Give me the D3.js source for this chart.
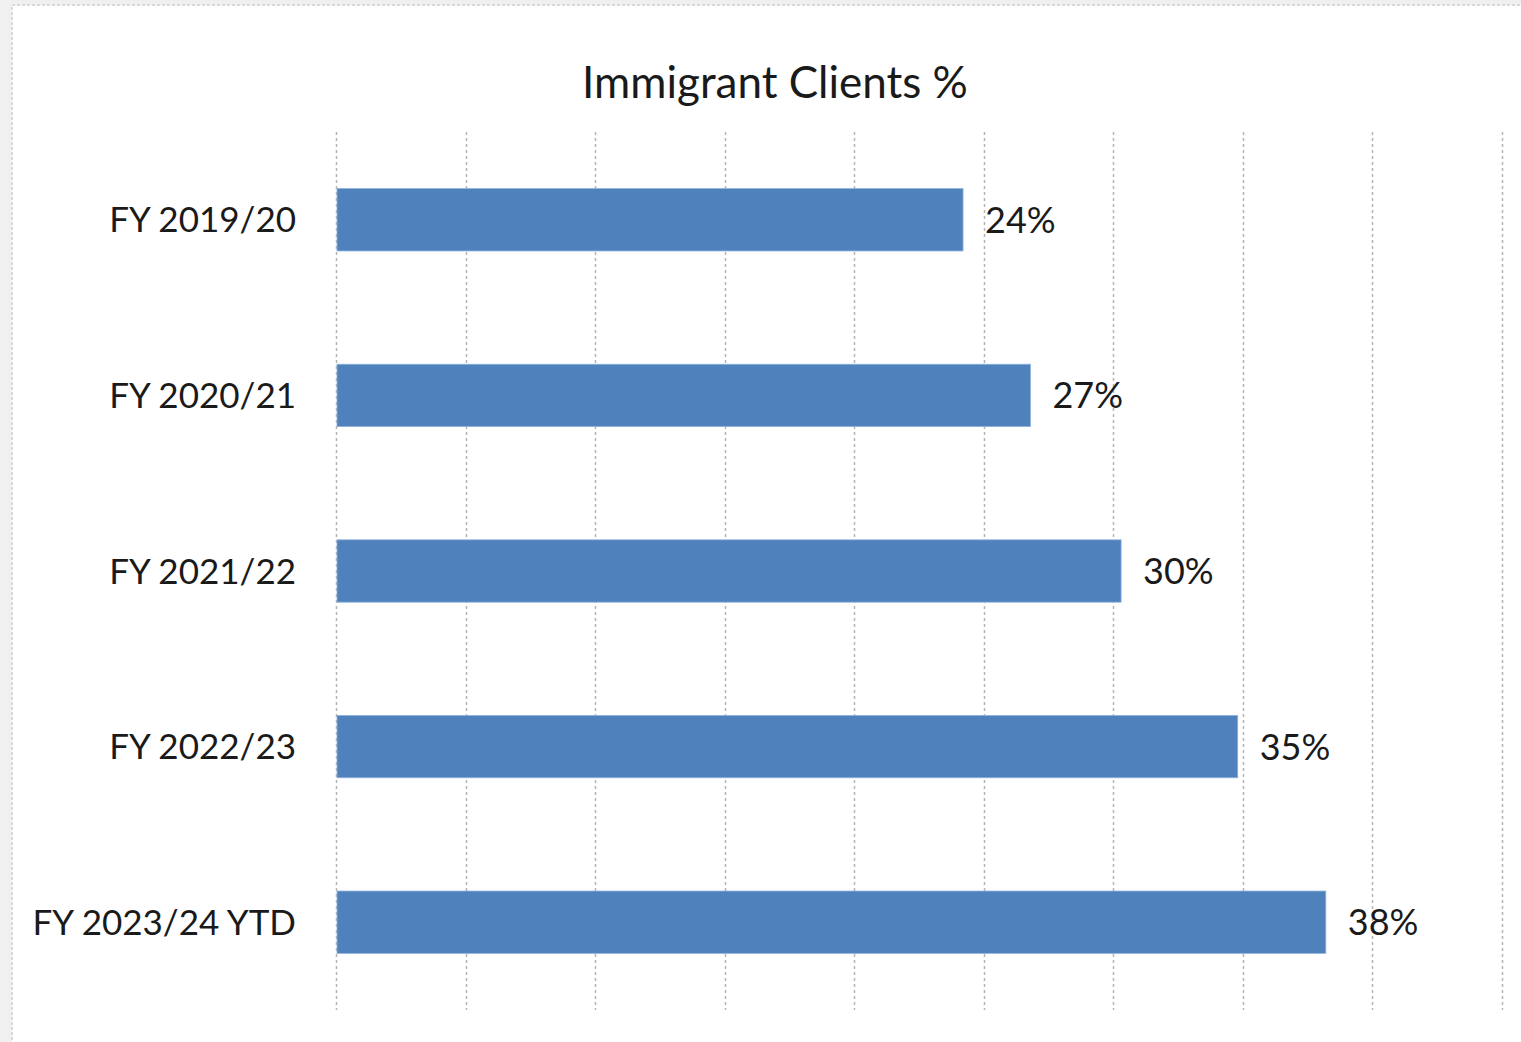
<!DOCTYPE html>
<html>
<head>
<meta charset="utf-8">
<script src="https://cdn.jsdelivr.net/npm/d3@7"></script>
<style>
  html, body { margin: 0; padding: 0; background: #f0f0f0; overflow: hidden; }
  text { font-family: Lato, "Open Sans", sans-serif; fill: #1a1a1a; }
</style>
</head>
<body>
<div id="chart"></div>
<script>
// data
const title = "Immigrant Clients %";
const categories = ["FY 2019/20", "FY 2020/21", "FY 2021/22", "FY 2022/23", "FY 2023/24 YTD"];
const values = [24.2, 26.8, 30.3, 34.8, 38.2];
const labels = ["24%", "27%", "30%", "35%", "38%"];
const xTicks = [0, 5, 10, 15, 20, 25, 30, 35, 40, 45];

const data = categories.map((c, i) => ({ category: c, value: values[i], label: labels[i] }));

// dimensions
const width = 1521, height = 1042;
const margin = { top: 132, right: 19, bottom: 32, left: 336 };
const plotW = width - margin.left - margin.right;
const plotH = height - margin.top - margin.bottom;

const svg = d3.select("#chart").append("svg")
    .attr("width", width)
    .attr("height", height);

// chart area (white sheet with light border, runs past the window on right/bottom)
svg.append("rect")
    .attr("x", 12).attr("y", 5)
    .attr("width", 1530).attr("height", 1060)
    .attr("fill", "white")
    .attr("stroke", "#d9d9d9")
    .attr("stroke-width", 2)
    .attr("stroke-dasharray", "3,2");

svg.append("text")
    .attr("x", 775)
    .attr("y", 98)
    .attr("text-anchor", "middle")
    .attr("font-size", 44)
    .text(title);

const x = d3.scaleLinear().domain([0, 45]).range([0, plotW]);
const y = d3.scaleBand().domain(categories).range([0, plotH]).paddingInner(0.645).paddingOuter(0.3225);

const g = svg.append("g").attr("transform", `translate(${margin.left},${margin.top})`);

// vertical dashed gridlines
g.selectAll("line.grid")
    .data(xTicks)
    .join("line")
    .attr("class", "grid")
    .attr("x1", d => Math.round(x(d)) + 0.5)
    .attr("x2", d => Math.round(x(d)) + 0.5)
    .attr("y1", 0)
    .attr("y2", plotH)
    .attr("stroke", "#b4b4b4")
    .attr("stroke-width", 1.5)
    .attr("stroke-dasharray", "3,3");

// bars
g.selectAll("rect.bar")
    .data(data)
    .join("rect")
    .attr("class", "bar")
    .attr("x", x(0) + 1)
    .attr("y", d => y(d.category))
    .attr("width", d => x(d.value) - 1)
    .attr("height", y.bandwidth())
    .attr("fill", "#4f81bd")
    .attr("stroke", "#8eb1dc")
    .attr("stroke-width", 0.8);

// value labels
g.selectAll("text.value")
    .data(data)
    .join("text")
    .attr("class", "value")
    .attr("x", d => x(d.value) + 22)
    .attr("y", d => y(d.category) + y.bandwidth() / 2)
    .attr("dy", "0.36em")
    .attr("font-size", 36)
    .text(d => d.label);

// category axis labels
g.selectAll("text.cat")
    .data(data)
    .join("text")
    .attr("class", "cat")
    .attr("x", -40)
    .attr("y", d => y(d.category) + y.bandwidth() / 2)
    .attr("dy", "0.36em")
    .attr("text-anchor", "end")
    .attr("font-size", 35)
    .text(d => d.category);
</script>
</body>
</html>
